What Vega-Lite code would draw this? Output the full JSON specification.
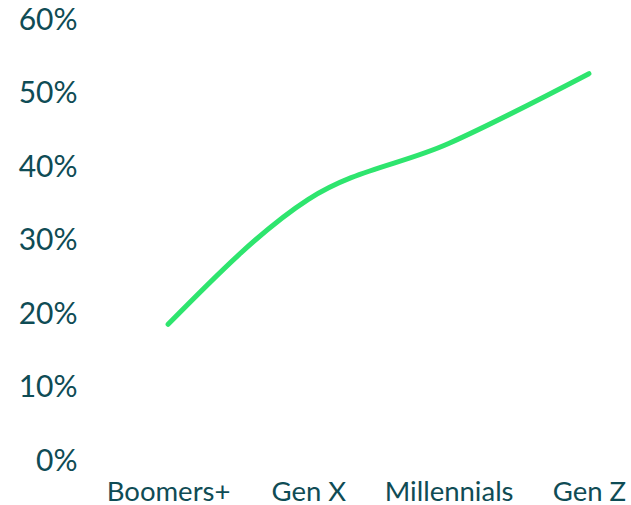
{
  "$schema": "https://vega.github.io/schema/vega-lite/v6.json",
  "width": 505,
  "height": 441,
  "autosize": "none",
  "padding": {"left": 126, "top": 20, "right": 0, "bottom": 44},
  "background": "white",
  "config": {"view": {"stroke": null}, "font": "Lato"},
  "data": {"values": [
    {"generation": "Boomers+", "share": 0.186},
    {"generation": "Gen X", "share": 0.356},
    {"generation": "Millennials", "share": 0.432},
    {"generation": "Gen Z", "share": 0.527}
  ]},
  "mark": {"type": "line", "interpolate": "monotone", "color": "#2ee56e", "strokeWidth": 5, "strokeCap": "round"},
  "encoding": {
    "x": {"field": "generation", "type": "ordinal", "sort": null,
      "scale": {"type": "point", "padding": 0.3},
      "axis": {"title": null, "domain": false, "ticks": false, "labelAngle": 0, "labelFont": "Lato", "labelFontSize": 27.5, "labelColor": "#0f4c55", "labelPadding": 17, "labelFontWeight": "normal"}},
    "y": {"field": "share", "type": "quantitative",
      "scale": {"domain": [0, 0.6]},
      "axis": {"title": null, "domain": false, "ticks": false, "grid": false, "format": ".0%", "values": [0, 0.1, 0.2, 0.3, 0.4, 0.5, 0.6], "labelFont": "Lato", "labelFontSize": 30, "labelColor": "#0f4c55", "labelPadding": 49, "labelFontWeight": "normal"}}
  }
}
